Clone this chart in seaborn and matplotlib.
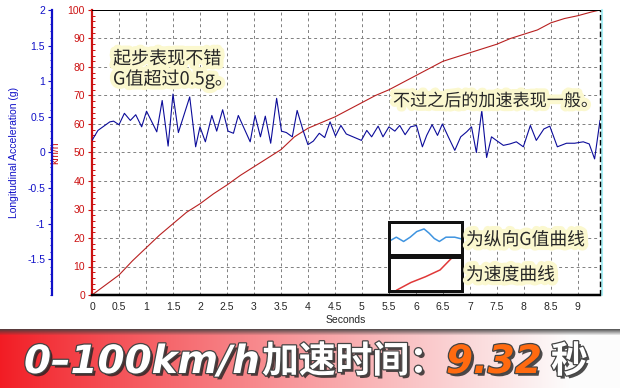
import numpy as np
import pandas as pd
import seaborn as sns
import matplotlib
matplotlib.use("Agg")
import matplotlib.pyplot as plt
import matplotlib.patheffects as pe
from matplotlib.lines import Line2D
from matplotlib.ticker import MultipleLocator

# Values
speed_t = [0, 0.25, 0.5, 0.75, 1.0, 1.25, 1.5, 1.75, 2.0, 2.25, 2.5, 2.75, 3.0, 3.25,
           3.5, 3.75, 4.0, 4.25, 4.5, 4.75, 5.0, 5.25, 5.5, 5.75, 6.0, 6.25, 6.5, 6.75,
           7.0, 7.25, 7.5, 7.75, 8.0, 8.25, 8.5, 8.75, 9.0, 9.25, 9.41]
speed_kmh = [0, 3.5, 7, 12, 16.5, 21, 25, 29, 32, 35.5, 38.6, 42, 45, 48,
             51, 55.5, 58.5, 60.5, 62.5, 65, 67.5, 70, 72, 74.5, 77, 79.5, 82, 83.5,
             85, 86.5, 88, 90, 91.5, 93, 95.5, 97, 98, 99.3, 100]

g_t = [0.0, 0.11, 0.33, 0.4, 0.5, 0.6, 0.71, 0.81, 0.92, 1.01, 1.2, 1.3, 1.41, 1.5,
       1.6, 1.81, 1.92, 2.0, 2.1, 2.22, 2.31, 2.42, 2.52, 2.62, 2.71, 2.93, 3.02, 3.12,
       3.21, 3.31, 3.42, 3.51, 3.6, 3.71, 3.8, 3.91, 4.0, 4.1, 4.21, 4.31, 4.41, 4.51,
       4.61, 4.71, 4.99, 5.09, 5.18, 5.3, 5.39, 5.5, 5.61, 5.7, 5.8, 5.9, 6.01, 6.12,
       6.2, 6.3, 6.4, 6.49, 6.6, 6.72, 6.83, 6.94, 7.03, 7.12, 7.22, 7.31, 7.4, 7.49,
       7.62, 7.74, 7.86, 7.99, 8.12, 8.23, 8.37, 8.48, 8.62, 8.79, 8.94, 9.1, 9.21,
       9.31, 9.41]
g_val = [0.17, 0.31, 0.43, 0.44, 0.39, 0.55, 0.45, 0.53, 0.36, 0.58, 0.29, 0.73, 0.09, 0.82,
         0.28, 0.78, 0.08, 0.36, 0.15, 0.52, 0.30, 0.60, 0.30, 0.27, 0.52, 0.15, 0.52, 0.22,
         0.51, 0.13, 0.76, 0.30, 0.28, 0.22, 0.59, 0.31, 0.11, 0.16, 0.27, 0.21, 0.43, 0.23,
         0.38, 0.26, 0.17, 0.31, 0.22, 0.37, 0.22, 0.36, 0.30, 0.38, 0.25, 0.36, 0.38, 0.08,
         0.24, 0.39, 0.24, 0.40, 0.22, 0.03, 0.22, 0.29, 0.36, 0.00, 0.59, -0.07, 0.22, 0.17,
         0.10, 0.12, 0.15, 0.08, 0.38, 0.17, 0.33, 0.37, 0.08, 0.13, 0.13, 0.15, 0.12,
         -0.09, 0.45]

x_ticks = [i * 0.5 for i in range(19)]
speed_ticks = list(range(0, 101, 10))
g_ticks = [-1.5, -1, -0.5, 0, 0.5, 1, 1.5, 2]

# little sample curves inside the two legend boxes
legend_wave_x = [0.02, 0.10, 0.20, 0.29, 0.38, 0.48, 0.55, 0.62, 0.69, 0.78, 0.90, 0.99]
legend_wave_y = [0.44, 0.54, 0.41, 0.54, 0.71, 0.79, 0.66, 0.50, 0.41, 0.54, 0.54, 0.49]
legend_line_x = [0.10, 0.30, 0.50, 0.70, 0.85, 1.0]
legend_line_y = [0.02, 0.25, 0.42, 0.62, 0.95, 1.2]

speed_df = pd.DataFrame({"t": speed_t, "kmh": speed_kmh})
g_df = pd.DataFrame({"t": g_t, "g": g_val})

sns.set_style("white")
plt.rcParams['font.family'] = ['Liberation Sans', 'Noto Sans CJK SC', 'DejaVu Sans']

RED = "#cc1111"
BLUE = "#1010c8"
W, H = 620, 388
PT = 0.72  # points per pixel at dpi 100


def px(x, y):
    return x / W, 1 - y / H


fig = plt.figure(figsize=(6.2, 3.88), dpi=100)
fig.patch.set_facecolor("white")
ax = fig.add_axes([92 / W, 1 - 295 / H, 508 / W, 285 / H])
ax2 = ax.twinx()

# speed on the red axis
sns.lineplot(data=speed_df, x="t", y="kmh", ax=ax, color="#b82020", linewidth=0.8)
ax.set_xlim(0, 9.41)
ax.set_ylim(0, 100)
ax.set_xticks(x_ticks)
ax.set_xticklabels([f"{v:g}" for v in x_ticks])
ax.set_yticks(speed_ticks)
ax.yaxis.set_minor_locator(MultipleLocator(2))
ax.xaxis.set_minor_locator(MultipleLocator(0.1))
ax.grid(True, which="major", color="#808080", linestyle=(0, (3, 3)), linewidth=0.7)
ax.set_xlabel("Seconds", fontsize=7.5, labelpad=2)
ax.set_ylabel("km/h", fontsize=7.5, color=RED, labelpad=5)
ax.tick_params(axis="y", which="major", colors=RED, labelsize=7.5, direction="out", length=3, width=0.8, pad=2)
ax.tick_params(axis="y", which="minor", colors=RED, direction="in", length=2, width=0.7)
ax.tick_params(axis="x", which="major", labelsize=7.5, direction="out", length=3, width=0.8, pad=2)
ax.tick_params(axis="x", which="minor", direction="in", length=1.5, width=0.5)
ax.spines["left"].set_color(RED)
ax.spines["left"].set_linewidth(2.2 * PT)
ax.spines["bottom"].set_color("black")
ax.spines["bottom"].set_linewidth(2.5 * PT)
ax.spines["top"].set_color("black")
ax.spines["top"].set_linewidth(1 * PT)
ax.spines["right"].set_visible(False)

# acceleration on the blue axis, moved out to the left
sns.lineplot(data=g_df, x="t", y="g", ax=ax2, color="#0c0c9a", linewidth=0.8)
ax2.set_ylim(-2, 2)
ax2.set_yticks(g_ticks)
ax2.set_yticklabels([f"{v:g}" for v in g_ticks])
ax2.yaxis.set_minor_locator(MultipleLocator(0.1))
ax2.yaxis.set_ticks_position("left")
ax2.yaxis.set_label_position("left")
ax2.spines["left"].set_position(("outward", 40 * PT))
ax2.spines["left"].set_color(BLUE)
ax2.spines["left"].set_linewidth(2.2 * PT)
for s in ["right", "top", "bottom"]:
    ax2.spines[s].set_visible(False)
ax2.tick_params(axis="y", which="major", colors=BLUE, labelsize=7.5, direction="out", length=3, width=0.8, pad=2)
ax2.tick_params(axis="y", which="minor", colors=BLUE, direction="out", length=1.5, width=0.7)
ax2.set_ylabel("Longitudinal Acceleration (g)", fontsize=7.5, color=BLUE, labelpad=6)
ax2.set_xlabel("")

# dashed right border with the pale cyan edge
fig.add_artist(Line2D([601.5 / W, 601.5 / W], [1 - 295 / H, 1 - 10 / H], color="#a8eef4", linewidth=1.5))
fig.add_artist(Line2D([599.5 / W, 599.5 / W], [1 - 295 / H, 1 - 10 / H], color="black",
                      linewidth=1, linestyle=(0, (4, 2))))

glow = [pe.withStroke(linewidth=6, foreground="#fbf8cf")]
cjk = ["Noto Sans CJK SC", "DejaVu Sans"]

fig.text(*px(113, 59), "起步表现不错", fontsize=13, family=cjk, va="center", path_effects=glow)
fig.text(*px(113, 79), "G值超过0.5g。", fontsize=13, family=cjk, va="center", path_effects=glow)
fig.text(*px(393, 101), "不过之后的加速表现一般。", fontsize=12.3, family=cjk, va="center", path_effects=glow)

# legend boxes
box1 = fig.add_axes([389 / W, 1 - 255 / H, 73 / W, 33 / H])
box2 = fig.add_axes([389 / W, 1 - 291 / H, 73 / W, 34 / H])
sns.lineplot(x=legend_wave_x, y=legend_wave_y, ax=box1, color="#3f94e0", linewidth=1.1)
sns.lineplot(x=legend_line_x, y=legend_line_y, ax=box2, color="#e03838", linewidth=1.1)
for b in (box1, box2):
    b.set_xlim(0, 1)
    b.set_ylim(0, 1)
    b.set_xticks([])
    b.set_yticks([])
    b.set_facecolor("white")
    for s in b.spines.values():
        s.set_color("#111111")
        s.set_linewidth(3 * PT)
fig.text(*px(466, 240), "为纵向G值曲线", fontsize=12.8, family=cjk, va="center", path_effects=glow)
fig.text(*px(466, 275), "为速度曲线", fontsize=12.8, family=cjk, va="center", path_effects=glow)

# banner at the bottom
BH = 59
ban = fig.add_axes([0, 0, 1, BH / H])
cols = np.linspace(0, 1, W)
f = np.clip(cols / 0.92, 0, 1) ** 0.9
red = np.array([0.95, 0.11, 0.14])
white = np.array([0.99, 0.99, 0.99])
row = red[None, :] * (1 - f[:, None]) + white[None, :] * f[:, None]
img = np.repeat(row[None, :, :], BH, axis=0)
shade = np.clip(1 - np.arange(BH) / 6.0, 0, 1)[:, None, None]
img = img * (1 - 0.85 * shade) + 0.25 * 0.85 * shade
ban.imshow(img, aspect="auto", extent=(0, W, BH, 0))
ban.set_axis_off()

banner_fx = [pe.SimplePatchShadow(offset=(2, -2), shadow_rgbFace="#222222", alpha=0.8),
             pe.Stroke(linewidth=1.8, foreground="#444444"), pe.Normal()]
lat = ["DejaVu Sans", "Noto Sans CJK SC"]
fig.text(*px(24, 362), "0–100km/h", fontsize=28, color="white", family=lat, weight="bold",
         style="italic", va="center", path_effects=banner_fx)
fig.text(*px(262, 362), "加速时间：", fontsize=26.5, color="white", family=cjk, weight="heavy",
         va="center", path_effects=banner_fx)
fig.text(*px(446, 362), "9.32", fontsize=28, color="#ff6a10", family=lat, weight="bold",
         style="italic", va="center", path_effects=banner_fx)
fig.text(*px(551, 362), "秒", fontsize=26.5, color="white", family=cjk, weight="heavy",
         va="center", path_effects=banner_fx)

fig.savefig("out.png", dpi=100)
